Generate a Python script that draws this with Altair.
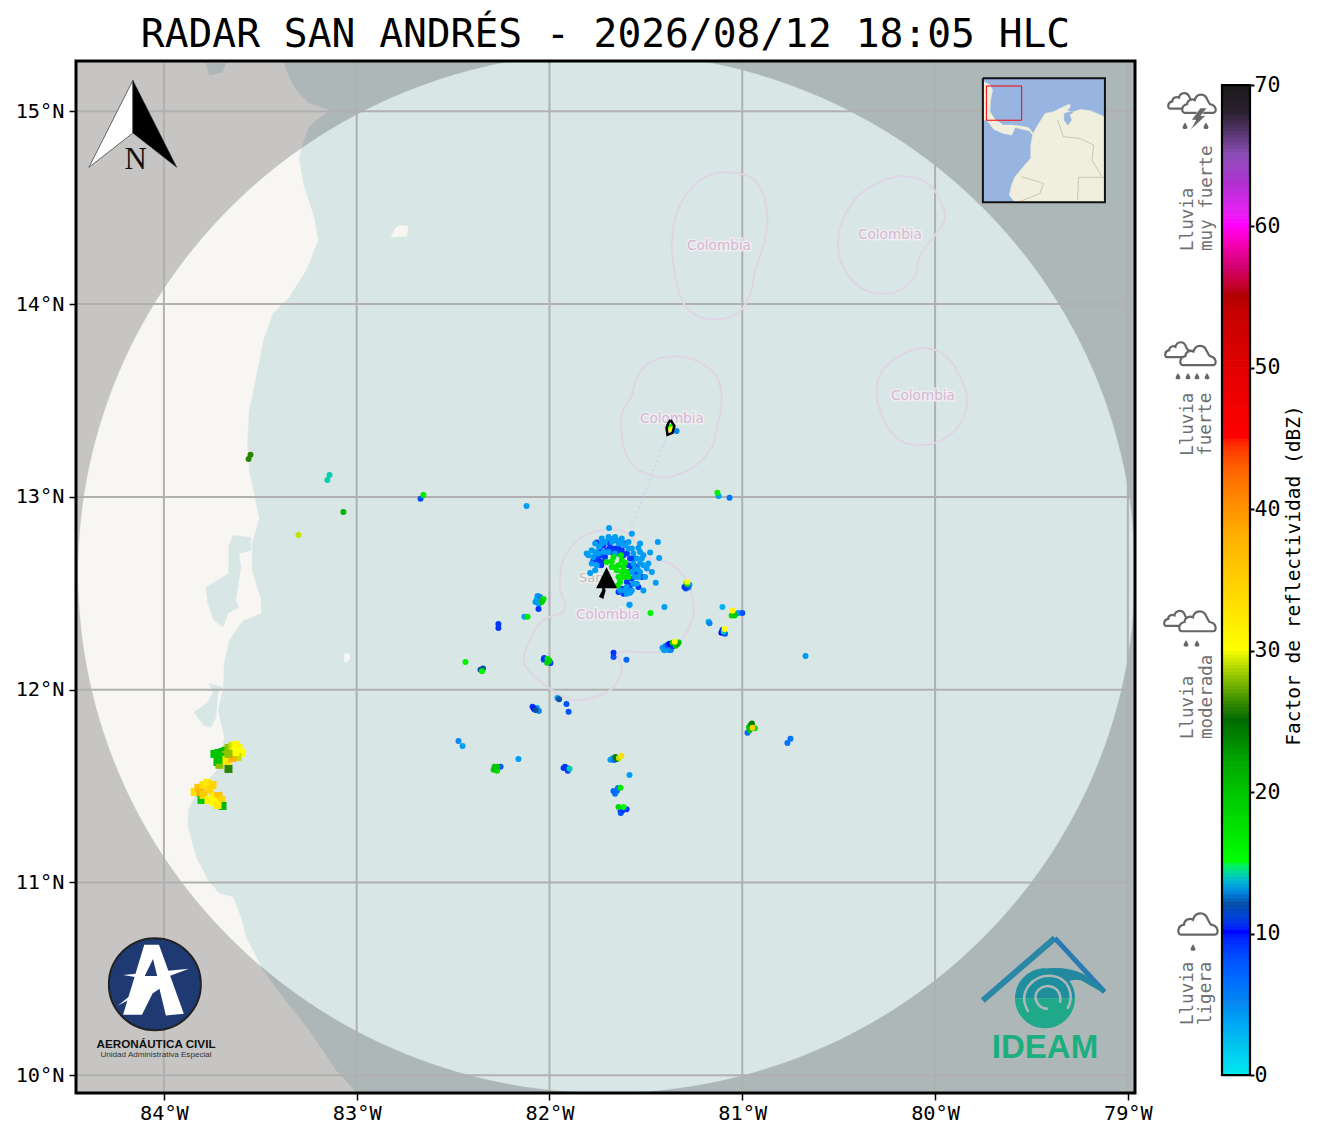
import numpy as np
import pandas as pd
import altair as alt

MONO = "DejaVu Sans Mono"
TITLE = "RADAR SAN ANDRÉS - 2026/08/12 18:05 HLC"
X_DOM = [-84.456, -78.963]
Y_DOM = [9.908, 15.261]
PW, PH = 1059, 1032
LON_TICKS = [-84, -83, -82, -81, -80, -79]
LAT_TICKS = [10, 11, 12, 13, 14, 15]

SEA_OUT, LAND_OUT, SEA_IN, LAND_IN = "#adb7b7", "#c6c5c3", "#d9e6e6", "#f7f6f2"
GRID = "#b0b0b0"
LILAC = "#ded6e4"

# colour scale of the reflectivity
DBZ_STOPS = [0, 2, 5, 10, 12, 15, 20, 22, 25, 26, 30, 33, 38, 42, 45, 50, 54, 55, 57, 60, 63, 65, 68, 70]
DBZ_COLS = ["#00e6f0", "#00c4ee", "#0a86f0", "#0000ff", "#0a50a8", "#00ff00", "#00c400", "#00a800", "#006c00",
            "#2a8400", "#ffff00", "#ffe000", "#ffb000", "#ff7000", "#ff0000", "#e00000", "#c40000", "#b00000",
            "#d00070", "#ff00ff", "#b030d0", "#8a4cb4", "#2a2030", "#1a1a1a"]
CS = alt.Scale(domain=DBZ_STOPS, range=DBZ_COLS, clamp=True)

# coast
LAND_LON = [-83.383, -83.352, -83.315, -83.248, -83.144, -83.212, -83.253, -83.279, -83.300, -83.279, -83.222, -83.201,
            -83.263, -83.352, -83.435, -83.486, -83.523, -83.559, -83.569, -83.559, -83.523, -83.507, -83.544, -83.544,
            -83.497, -83.497, -83.590, -83.663, -83.689, -83.694, -83.720, -83.689, -83.715, -83.834, -83.876, -83.876,
            -83.834, -83.772, -83.715, -83.642, -83.601, -83.575, -83.486, -83.383, -83.248, -83.108, -82.994, -84.47, -84.47]
LAND_LAT = [15.265, 15.176, 15.109, 15.041, 15.005, 14.953, 14.912, 14.834, 14.761, 14.627, 14.450, 14.331,
            14.175, 14.035, 13.952, 13.812, 13.620, 13.449, 13.278, 13.138, 12.967, 12.889, 12.759, 12.619,
            12.464, 12.396, 12.360, 12.256, 12.137, 12.012, 11.893, 11.753, 11.597, 11.462, 11.374, 11.286,
            11.131, 11.011, 10.944, 10.923, 10.819, 10.716, 10.544, 10.404, 10.233, 10.026, 9.9, 9.9, 15.27]
LAG1_LON = [-83.642, -83.549, -83.549, -83.611, -83.601, -83.627, -83.611, -83.668, -83.694, -83.741, -83.772, -83.782, -83.663, -83.663]
LAG1_LAT = [12.801, 12.790, 12.723, 12.707, 12.635, 12.464, 12.427, 12.396, 12.324, 12.360, 12.448, 12.531, 12.604, 12.749]
LAG2_LON = [-83.767, -83.694, -83.720, -83.730, -83.756, -83.793, -83.844, -83.772, -83.746]
LAG2_LAT = [12.033, 12.012, 11.981, 11.857, 11.805, 11.815, 11.883, 11.934, 11.986]
LAKE_LON = [-83.782, -83.678, -83.699, -83.767]
LAKE_LAT = [15.249, 15.249, 15.202, 15.187]
ISLE1_LON = [-82.823, -82.797, -82.776, -82.734, -82.740]
ISLE1_LAT = [14.346, 14.393, 14.409, 14.404, 14.352]
ISLE2_LON = [-83.066, -83.061, -83.035, -83.035, -83.05]
ISLE2_LAT = [12.142, 12.189, 12.184, 12.163, 12.142]

# maritime outlines
OUT1_LON = [-81.090, -80.934, -80.872, -80.883, -80.934, -80.960, -81.038, -81.194, -81.298, -81.349, -81.365, -81.323, -81.220]
OUT1_LAT = [14.684, 14.642, 14.486, 14.331, 14.175, 14.046, 13.942, 13.926, 13.994, 14.149, 14.331, 14.512, 14.642]
OUT2_LON = [-80.182, -80.027, -79.949, -80.001, -80.079, -80.105, -80.208, -80.364, -80.468, -80.504, -80.468, -80.364]
OUT2_LAT = [14.663, 14.616, 14.461, 14.357, 14.253, 14.149, 14.061, 14.072, 14.175, 14.305, 14.461, 14.590]
OUT3_LON = [-80.079, -79.949, -79.861, -79.835, -79.897, -80.027, -80.182, -80.276, -80.302, -80.234]
OUT3_LAT = [13.771, 13.734, 13.605, 13.475, 13.345, 13.273, 13.293, 13.423, 13.579, 13.698]
OUT4_LON = [-81.349, -81.220, -81.132, -81.106, -81.132, -81.158, -81.256, -81.391, -81.515, -81.593, -81.624, -81.624, -81.573, -81.547, -81.479]
OUT4_LAT = [13.729, 13.698, 13.620, 13.501, 13.361, 13.257, 13.153, 13.102, 13.127, 13.200, 13.309, 13.434, 13.527, 13.620, 13.698]
OUT5_LON = [-81.920, -81.946, -81.930, -81.842, -81.723, -81.593, -81.495, -81.375, -81.282, -81.251, -81.282, -81.339, -81.443,
            -81.635, -81.624, -81.687, -81.842, -81.962, -82.127, -82.102, -82.034]
OUT5_LAT = [12.412, 12.531, 12.671, 12.785, 12.827, 12.811, 12.687, 12.655, 12.552, 12.412, 12.308, 12.241, 12.194,
            12.194, 12.100, 11.997, 11.945, 11.981, 12.126, 12.256, 12.360]
LABEL_LON = [-81.121, -80.234, -80.063, -81.365, -81.697]
LABEL_LAT = [14.300, 14.357, 13.522, 13.402, 12.386]

# radar echoes around the site: weak, then moderate, then strongest
CORE_LON = [-81.691, -81.573, -81.438, -81.729, -81.530, -81.807, -81.431, -81.478, -81.469, -81.449, -81.539, -81.542,
            -81.789, -81.585, -81.513, -81.504, -81.582, -81.608,
            -81.763, -81.743, -81.694, -81.660, -81.625, -81.590, -81.573, -81.712, -81.677, -81.642, -81.608, -81.530,
            -81.521, -81.513, -81.495, -81.547, -81.565, -81.772, -81.781, -81.755, -81.746, -81.720, -81.556, -81.547,
            -81.573, -81.599, -81.530, -81.634, -81.763, -81.781,
            -81.729, -81.651, -81.590, -81.565, -81.530, -81.556, -81.798, -81.763, -81.694, -81.660, -81.573, -81.565,
            -81.599, -81.539, -81.487, -81.625, -81.686, -81.513,
            -81.755, -81.720, -81.686, -81.660, -81.625, -81.599, -81.582, -81.608, -81.668, -81.712, -81.746, -81.772,
            -81.732, -81.565, -81.590, -81.547, -81.521, -81.573, -81.625, -81.642, -81.590, -81.582, -81.539, -81.616,
            -81.729, -81.642,
            -81.703, -81.677, -81.616, -81.565, -81.737, -81.755, -81.729, -81.573, -81.556, -81.599, -81.590, -81.642, -81.694,
            -81.703, -81.677, -81.668, -81.625, -81.642, -81.616, -81.651, -81.625, -81.599, -81.642, -81.616, -81.634,
            -81.660, -81.608, -81.629, -81.677, -81.590, -81.646]
CORE_LAT = [12.839, 12.809, 12.766, 12.784, 12.758, 12.706, 12.683, 12.711, 12.611, 12.555, 12.735, 12.624,
            12.605, 12.441, 12.515, 12.585, 12.503, 12.515,
            12.758, 12.740, 12.792, 12.792, 12.784, 12.766, 12.732, 12.766, 12.766, 12.758, 12.749, 12.714,
            12.680, 12.645, 12.628, 12.680, 12.654, 12.688, 12.654, 12.645, 12.706, 12.714, 12.585, 12.550,
            12.515, 12.533, 12.611, 12.515, 12.714, 12.723,
            12.758, 12.775, 12.732, 12.706, 12.654, 12.628, 12.697, 12.619, 12.714, 12.706, 12.611, 12.550,
            12.498, 12.585, 12.654, 12.758, 12.784, 12.697,
            12.763, 12.749, 12.740, 12.732, 12.723, 12.706, 12.680, 12.758, 12.775, 12.688, 12.671, 12.671,
            12.645, 12.619, 12.645, 12.636, 12.585, 12.576, 12.524, 12.507, 12.611, 12.541, 12.533, 12.498,
            12.697, 12.706,
            12.723, 12.714, 12.697, 12.680, 12.723, 12.688, 12.662, 12.636, 12.602, 12.559, 12.515, 12.732, 12.766,
            12.662, 12.666, 12.688, 12.671, 12.645, 12.636, 12.619, 12.611, 12.611, 12.585, 12.585, 12.559,
            12.636, 12.659, 12.697, 12.636, 12.585, 12.541]
CORE_DBZ = [4] * 66 + [9] * 39 + [17] * 18

# scattered echoes
ECHO_LON = [-83.551, -83.561, -83.141, -83.152, -83.069, -83.302, -82.669, -82.654, -82.119,
            -81.372, -81.341, -81.368, -81.129, -81.123, -81.066,
            -81.300, -81.289, -81.274, -81.289, -81.285,
            -82.062, -82.073, -82.047, -82.031, -82.041, -82.057, -82.130, -82.114, -82.265, -82.265,
            -81.103, -81.046, -81.050, -81.0, -81.020, -81.175, -81.170, -81.103, -81.097, -81.090, -81.092,
            -81.414, -81.388, -81.385, -81.370, -81.360, -81.345, -81.362, -81.336, -81.350,
            -81.668, -81.668, -81.601, -82.028, -82.010, -81.995, -82.00, -82.436, -82.358, -82.350,
            -81.959, -81.950, -81.912, -81.901, -82.088, -82.073, -82.055, -80.672,
            -80.973, -80.957, -80.935, -80.962, -80.947, -80.750, -80.766, -82.472, -82.451,
            -82.285, -82.272, -82.254, -82.161, -81.927, -81.910, -81.896,
            -81.684, -81.665, -81.658, -81.640, -81.627, -81.585,
            -81.668, -81.650, -81.632, -81.632, -81.642, -81.616, -81.620, -81.404, -81.476, -81.585,
            -81.293, -81.280, -81.285, -82.066, -82.050, -82.037, -82.055,
            -81.400, -81.375, -81.378, -81.330, -81.405,
            -81.920, -81.905, -80.950, -80.965, -82.012, -82.03, -81.672, -81.650,
            -81.66, -81.645, -81.63, -81.60, -82.29, -82.27, -81.108, -81.055, -81.04, -82.345, -82.08, -82.065]
ECHO_LAT = [13.218, 13.197, 13.114, 13.088, 12.922, 12.803, 12.990, 13.010, 12.953,
            13.363, 13.342, 13.35, 13.021, 13.005, 12.995,
            12.533, 12.538, 12.544, 12.554, 12.559,
            12.486, 12.455, 12.466, 12.471, 12.455, 12.419, 12.378, 12.378, 12.341, 12.320,
            12.429, 12.398, 12.41, 12.398, 12.398, 12.352, 12.345, 12.310, 12.300, 12.29, 12.315,
            12.217, 12.232, 12.206, 12.206, 12.225, 12.228, 12.243, 12.237, 12.248,
            12.191, 12.170, 12.155, 12.165, 12.160, 12.139, 12.15, 12.144, 12.103, 12.095,
            11.957, 11.950, 11.926, 11.885, 11.911, 11.895, 11.890, 12.175,
            11.776, 11.817, 11.80, 11.79, 11.802, 11.745, 11.724, 11.734, 11.708,
            11.600, 11.580, 11.600, 11.641, 11.594, 11.594, 11.590,
            11.636, 11.635, 11.651, 11.646, 11.657, 11.558,
            11.475, 11.475, 11.491, 11.371, 11.392, 11.392, 11.375, 12.429, 12.398, 12.440,
            12.525, 12.530, 12.548, 12.470, 12.482, 12.460, 12.445,
            12.225, 12.215, 12.238, 12.245, 12.205,
            11.600, 11.580, 11.825, 11.805, 12.14, 12.155, 11.645, 11.64,
            11.46, 11.49, 11.36, 11.38, 11.585, 11.60, 12.295, 12.385, 12.385, 12.11, 11.90, 11.905]
ECHO_DBZ = [26, 26, 14, 14, 21, 29, 8, 17, 4,
            16, 5, 30, 16, 4, 6,
            9, 9, 4, 18, 30,
            4, 4, 3, 17, 19, 9, 4, 17, 9, 9,
            3, 20, 31, 8, 4, 3, 5, 9, 14, 8, 30,
            4, 8, 4, 5, 9, 20, 19, 22, 30,
            9, 8, 7, 9, 17, 9, 19, 16, 12, 16,
            4, 12, 8, 8, 9, 12, 5, 4,
            7, 22, 18, 20, 35, 6, 6, 5, 4,
            20, 18, 8, 4, 9, 8, 14,
            4, 7, 24, 29, 33, 4,
            7, 6, 17, 8, 18, 15, 9, 4, 16, 4,
            8, 6, 16, 3, 5, 18, 4,
            5, 4, 10, 19, 4,
            9, 9, 24, 20, 19, 8, 4, 24,
            6, 6, 8, 9, 19, 20, 10, 18, 19, 12, 10, 4]

# strong echoes on the coast
COAST_LON = [-83.738, -83.717, -83.696, -83.681, -83.665, -83.644, -83.629, -83.613, -83.598, -83.618, -83.655, -83.681,
             -83.707, -83.722, -83.712, -83.665, -83.670, -83.644, -83.696, -83.629, -83.717, -83.665,
             -83.841, -83.821, -83.795, -83.774, -83.810, -83.764, -83.743, -83.717, -83.743, -83.701, -83.805, -83.696,
             -83.795, -83.769, -83.722, -83.748]
COAST_LAT = [11.667, 11.672, 11.677, 11.683, 11.698, 11.708, 11.714, 11.698, 11.672, 11.651, 11.662, 11.662,
             11.651, 11.625, 11.610, 11.589, 11.631, 11.646, 11.636, 11.677, 11.636, 11.667,
             11.470, 11.491, 11.506, 11.517, 11.465, 11.480, 11.444, 11.449, 11.418, 11.428, 11.428, 11.397,
             11.454, 11.428, 11.402, 11.506]
COAST_DBZ = [20, 20, 21, 21, 28, 29, 31, 31, 30, 29, 29, 28,
             20, 21, 28, 26, 33, 38, 32, 30, 20, 28,
             33, 36, 33, 32, 38, 34, 32, 36, 30, 34, 20, 21,
             35, 31, 32, 34]

# storm track
TRACK_LON = [-81.383, -81.580]
TRACK_LAT = [13.337, 12.830]
LOOP_LON = [-81.372, -81.352, -81.362, -81.388, -81.393, -81.383, -81.372]
LOOP_LAT = [13.399, 13.368, 13.332, 13.322, 13.358, 13.384, 13.399]
TAIL_LON = [-81.716, -81.722, -81.735, -81.725, -81.714]
TAIL_LAT = [12.54, 12.51, 12.485, 12.48, 12.52]

# inset geography
INS_LON = [-84.84, -83.9, -83.49, -83.8, -83.9, -83.12, -81.82, -80.52, -79.22, -77.92, -77.13, -76.61, -75.31, -74.01,
           -72.45, -71.51, -71.4, -72.19, -71.93, -71.4, -70.88, -69.84, -68.28, -66.04, -66.04, -80, -80.88, -80.52,
           -80, -78.7, -77.55, -77.55, -77.24, -77.76, -78.7, -80, -80.52, -81.82, -83.28, -84.43, -85, -85]
INS_LAT = [15.93, 15.41, 14.63, 13.06, 11.24, 10.04, 9.16, 9.16, 9.0, 8.79, 7.85, 8.9, 10.98, 11.24,
           12.02, 12.44, 11.92, 11.24, 11.5, 11.24, 11.24, 11.6, 11.4, 10.46, -2.9, -2.9, -1.78, -0.22,
           1.08, 2.65, 3.95, 6.03, 7.59, 8.27, 8.48, 8.79, 7.59, 7.85, 8.48, 9.94, 9.94, 15.93]
INS_LK_LON = [-71.4, -72.29, -72.34, -71.77, -71.2, -71.51, -70.88]
INS_LK_LAT = [11.24, 10.98, 9.94, 9.16, 9.94, 10.72, 11.24]
BORDERS = [([-73.38, -72.45, -69.84, -67.76, -68.02, -66.46], [9.94, 7.33, 7.07, 6.03, 3.69, 1.08]),
           ([-66.04, -70.1, -70.26], [0.98, 0.98, -2.56]),
           ([-78.96, -75.57, -76.1, -79.5], [1.08, 0.04, -1.52, -2.9])]

AXX = alt.Axis(values=LON_TICKS, labelExpr="abs(datum.value)+'°W'", grid=False, domain=False, tickSize=7, tickWidth=1.5,
               tickColor="black", labelFont=MONO, labelFontSize=20.3, labelColor="black", title=None, labelPadding=3,
               labelFlush=False, labelOverlap=False)
AXY = alt.Axis(values=LAT_TICKS, labelExpr="datum.value+'°N'", grid=False, domain=False, tickSize=7, tickWidth=1.5,
               tickColor="black", labelFont=MONO, labelFontSize=20.3, labelColor="black", title=None, labelPadding=5,
               labelFlush=False, labelOverlap=False, minExtent=68, maxExtent=68)
X = alt.X("x:Q", scale=alt.Scale(domain=X_DOM, nice=False, zero=False), axis=AXX)
Y = alt.Y("y:Q", scale=alt.Scale(domain=Y_DOM, nice=False, zero=False), axis=AXY)


def frame(lons, lats):
    return pd.DataFrame({"x": lons, "y": lats, "i": range(len(lons))})


def poly(lons, lats, fill=None, stroke=None, width=1.0, xe=X, ye=Y, **kw):
    opts = dict(clip=True, **kw)
    if fill is not None:
        opts["fill"] = fill
        opts["stroke"] = stroke or fill
        opts["strokeWidth"] = width if stroke else 0.5
    else:
        opts["stroke"] = stroke
        opts["strokeWidth"] = width
    return alt.Chart(frame(lons, lats)).mark_line(**opts).encode(x=xe, y=ye, order="i:Q")


def glyph(x, y, path, size, fill=None, stroke=None, width=1.0, xe=X, ye=Y):
    opts = dict(shape=path, size=size, opacity=1)
    if fill is not None:
        opts.update(filled=True, fill=fill)
    else:
        opts.update(filled=False)
    if stroke is not None:
        opts.update(stroke=stroke, strokeWidth=width)
    else:
        opts.update(strokeWidth=0)
    return alt.Chart(frame([x], [y])).mark_point(**opts).encode(x=xe, y=ye)


def label(x, y, text, xe=X, ye=Y, **kw):
    return alt.Chart(frame([x], [y]).assign(t=[text])).mark_text(**kw).encode(x=xe, y=ye, text="t:N")


def clip_convex(poly_pts, clip_pts):
    out = list(poly_pts)
    for a, b in zip(clip_pts, clip_pts[1:] + clip_pts[:1]):
        inp, out = out, []
        if not inp:
            break
        def side(p):
            return (b[0] - a[0]) * (p[1] - a[1]) - (b[1] - a[1]) * (p[0] - a[0])
        for p, q in zip(inp, inp[1:] + inp[:1]):
            sp, sq = side(p), side(q)
            if sp >= 0:
                out.append(p)
            if sp * sq < 0:
                t = sp / (sp - sq)
                out.append((p[0] + t * (q[0] - p[0]), p[1] + t * (q[1] - p[1])))
    return out


# radar range
theta = np.linspace(0, 2 * np.pi, 240, endpoint=False)
CIRC_LON = list(-81.704 + 2.739 * np.cos(theta))
CIRC_LAT = list(12.606 + 2.697 * np.sin(theta))
inner = clip_convex(list(zip(LAND_LON, LAND_LAT)), list(zip(CIRC_LON, CIRC_LAT)))

layers = []
base_df = frame(X_DOM + X_DOM[::-1], [Y_DOM[0]] * 2 + [Y_DOM[1]] * 2)
layers.append(alt.Chart(base_df).mark_line(fill=SEA_OUT, stroke=SEA_OUT, clip=True).encode(x=X, y=Y, order="i:Q"))
layers.append(poly(LAND_LON, LAND_LAT, fill=LAND_OUT))
layers.append(poly(LAKE_LON, LAKE_LAT, fill=SEA_OUT))
layers.append(poly(CIRC_LON, CIRC_LAT, fill=SEA_IN))
layers.append(poly([p[0] for p in inner], [p[1] for p in inner], fill=LAND_IN))
layers.append(poly(LAG1_LON, LAG1_LAT, fill=SEA_IN))
layers.append(poly(LAG2_LON, LAG2_LAT, fill=SEA_IN))
layers.append(poly(ISLE1_LON, ISLE1_LAT, fill=LAND_IN))
layers.append(poly(ISLE2_LON, ISLE2_LAT, fill=LAND_IN))

# grid
layers.append(alt.Chart(pd.DataFrame({"x": LON_TICKS})).mark_rule(color=GRID, strokeWidth=2).encode(x=X))
layers.append(alt.Chart(pd.DataFrame({"y": LAT_TICKS})).mark_rule(color=GRID, strokeWidth=2).encode(y=Y))

# maritime outlines
for lo, la in [(OUT1_LON, OUT1_LAT), (OUT2_LON, OUT2_LAT), (OUT3_LON, OUT3_LAT), (OUT4_LON, OUT4_LAT), (OUT5_LON, OUT5_LAT)]:
    layers.append(poly(lo, la, stroke=LILAC, width=2, interpolate="cardinal-closed"))
lab_df = pd.DataFrame({"x": LABEL_LON, "y": LABEL_LAT, "t": ["Colombia"] * 5})
layers.append(alt.Chart(lab_df).mark_text(font="DejaVu Sans", fontSize=13.6, stroke="#f2eef2", strokeWidth=3, opacity=.9).encode(x=X, y=Y, text="t:N"))
layers.append(alt.Chart(lab_df).mark_text(font="DejaVu Sans", fontSize=13.6, color="#d3b8d3").encode(x=X, y=Y, text="t:N"))
layers.append(label(-81.847, 12.578, "San", align="left", font="DejaVu Sans", fontSize=13, stroke="#eeeeee", strokeWidth=3))
layers.append(label(-81.847, 12.578, "San", align="left", font="DejaVu Sans", fontSize=13, color="#bdbdbd"))

# track beneath echoes
layers.append(poly(TRACK_LON, TRACK_LAT, stroke="#c6d6ee", width=1.5, strokeDash=[2, 3]))

# radar echoes
echo_df = pd.DataFrame({"x": ECHO_LON, "y": ECHO_LAT, "d": ECHO_DBZ}).sort_values("d", kind="stable")
layers.append(alt.Chart(echo_df).mark_circle(size=36, opacity=1).encode(
    x=X, y=Y, color=alt.Color("d:Q", scale=CS, legend=None)))
coast_df = pd.DataFrame({"x": COAST_LON, "y": COAST_LAT, "d": COAST_DBZ})
layers.append(alt.Chart(coast_df).mark_square(size=64, opacity=1).encode(
    x=X, y=Y, color=alt.Color("d:Q", scale=CS, legend=None)))
core_df = pd.DataFrame({"x": CORE_LON, "y": CORE_LAT, "d": CORE_DBZ})
core_df = pd.concat([core_df[core_df.d == 9], core_df[core_df.d == 4], core_df[core_df.d == 17]])
layers.append(alt.Chart(core_df).mark_circle(size=36, opacity=1).encode(
    x=X, y=Y, color=alt.Color("d:Q", scale=CS, legend=None)))

# storm arrow
layers.append(poly(LOOP_LON, LOOP_LAT, stroke="black", width=2.5))
layers.append(poly(TAIL_LON, TAIL_LAT, stroke="black", width=2.5))
layers.append(glyph(-81.704, 12.580, "M0,-1 L1,1 L-1,1 Z", 441, fill="black"))

# north arrow
layers.append(glyph(-84.161, 14.935, "M0,-.99 L-1,.99 L0,.21 Z", 7744, fill="white", stroke="#666666", width=1))
layers.append(glyph(-84.161, 14.935, "M0,-.99 L1,.99 L0,.21 Z", 7744, fill="black", stroke="#333333", width=.5))
layers.append(label(-84.147, 14.750, "N", font="Liberation Serif", fontSize=31, color="#111111"))


# inset
def ix(v):
    return [-79.752 + (a + 85) / 19 * 0.633 for a in v]


def iy(v):
    return [14.528 + (a + 2.92) / 19.375 * 0.643 for a in v]


IN_X = [-85, -66, -66, -85]
IN_Y = [16.455, 16.455, -2.92, -2.92]
layers.append(poly(ix(IN_X), iy(IN_Y), fill="#98b5e2"))
layers.append(poly(ix(INS_LON), iy(INS_LAT), fill="#f0eedc"))
layers.append(poly(ix(INS_LK_LON), iy(INS_LK_LAT), fill="#98b5e2"))
for lo, la in BORDERS:
    layers.append(poly(ix(lo), iy(la), stroke="#c8c6b4", width=1))
layers.append(poly(ix(IN_X + IN_X[:1]), iy(IN_Y + IN_Y[:1]), stroke="#111111", width=2))
layers.append(poly(ix([X_DOM[0], X_DOM[1], X_DOM[1], X_DOM[0], X_DOM[0]]), iy([Y_DOM[1], Y_DOM[1], Y_DOM[0], Y_DOM[0], Y_DOM[1]]), stroke="#ff0000", width=1))

# Aeronautica logo
DISK = "M-1,0 C-1,-.55 -.55,-1 0,-1 C.55,-1 1,-.55 1,0 C1,.55 .55,1 0,1 C-.55,1 -1,.55 -1,0 Z"
LOGO_A = "M-.23,-.86 L.09,-.86 L.63,.64 L.24,.68 L.10,.10 L-.05,.20 L-.28,.66 L-.69,.66 Z"
LOGO_HOLE = "M-.04,-.55 L.05,-.18 L-.22,-.18 Z"
LOGO_STAR = "M-.69,-.2 L.74,-.34 L.1,-.1 L-.1,.1 L-.8,.46 L-.35,.1 L-.2,-.12 Z"
layers.append(glyph(-84.047, 10.472, DISK, 8464, fill="#1f3a72", stroke="#222222", width=2))
layers.append(glyph(-84.047, 10.472, LOGO_STAR, 8464, fill="white"))
layers.append(glyph(-84.047, 10.472, LOGO_A, 8464, fill="white"))
layers.append(glyph(-84.047, 10.472, LOGO_HOLE, 8464, fill="#1f3a72"))
layers.append(label(-84.041, 10.161, "AERONÁUTICA CIVIL", font="Liberation Sans", fontWeight="bold", fontSize=11.7, color="#111111"))
layers.append(label(-84.041, 10.103, "Unidad Administrativa Especial", font="Liberation Sans", fontSize=8.1, color="#333333"))

# IDEAM logo
layers.append(glyph(-79.415, 10.399, "M-.93,.03 L.10,-.86", 19600, stroke="#2a88a6", width=6))
layers.append(glyph(-79.415, 10.399, "M.10,-.86 L.81,-.09", 19600, stroke="#2a7ab2", width=5))
layers.append(glyph(-79.43, 10.399, "M-1,0 C-1,-.55 -.55,-1 0,-1 C.55,-1 1,-.55 1,0 Z", 3600, fill="#1f8f9e"))
layers.append(glyph(-79.43, 10.399, "M-1,0 C-1,.55 -.55,1 0,1 C.55,1 1,.55 1,0 Z", 3600, fill="#1fa98a"))
layers.append(glyph(-79.43, 10.399, "M.1,-1 C.6,-1.05 1.0,-.95 1.3,-.8 L1.95,-.3 L1.9,-.2 L1.2,-.6 C1,-.65 .8,-.6 .6,-.5 Z", 3600, fill="#2488a0"))
layers.append(glyph(-79.43, 10.399, "M-.55,.45 C-.95,-.2 -.4,-.8 .2,-.75 C.8,-.7 1.0,-.1 .75,.35", 3600, stroke=SEA_OUT, width=2.5))
layers.append(glyph(-79.43, 10.399, "M.5,.15 C.6,-.35 .1,-.55 -.2,-.3 C-.45,-.05 -.25,.35 .1,.35", 3600, stroke=SEA_OUT, width=2.5))
layers.append(label(-79.430, 10.140, "IDEAM", font="Liberation Sans", fontWeight="bold", fontSize=33, color="#1cae7f"))

# frame
layers.append(alt.Chart(frame([0], [0])).mark_rect(filled=False, stroke="black", strokeWidth=3, clip=False).encode(
    x=alt.value(0), x2=alt.value(PW), y=alt.value(0), y2=alt.value(PH)))

main = alt.layer(*layers).properties(
    width=PW, height=PH,
    title=alt.TitleParams(TITLE, font=MONO, fontSize=39.6, fontWeight="normal", color="black", anchor="middle", offset=4))

# colour bar panel
CB_W = 90
C_TOP, C_BOT = 71.7, -1.27
CB_TICKS = [0, 10, 20, 30, 40, 50, 60, 70]
CAX = alt.Axis(values=CB_TICKS, domain=False, grid=False, tickSize=4, tickWidth=2, tickColor="black", labelFont=MONO,
               labelFontSize=21.6, labelColor="black", labelPadding=0, labelFlush=False, labelOverlap=False,
               title="Factor de reflectividad (dBZ)", titleFont=MONO, titleFontSize=19.5, titleFontWeight="normal",
               titleColor="black", titleAngle=270, titleBaseline="middle", titleAlign="center", titleX=43, titleY=514,
               orient="right")
CX = alt.X("x:Q", scale=alt.Scale(domain=[0, CB_W], nice=False, zero=False), axis=None)
CY = alt.Y("y:Q", scale=alt.Scale(domain=[C_BOT, C_TOP], nice=False, zero=False), axis=CAX)
bar_v = np.arange(0, 70, 0.25)
bar_df = pd.DataFrame({"y": bar_v, "y2": bar_v + 0.3, "x": 62, "x2": 90, "d": bar_v})
bar_df["y2"] = bar_df["y2"].clip(upper=70)
clayers = [alt.Chart(bar_df).mark_rect().encode(
    x=CX, x2="x2:Q", y=CY, y2="y2:Q", color=alt.Color("d:Q", scale=CS, legend=None))]
clayers.append(alt.Chart(pd.DataFrame({"x": [62], "x2": [90], "y": [0], "y2": [70]})).mark_rect(filled=False, stroke="black", strokeWidth=2.2).encode(
    x=CX, x2="x2:Q", y=CY, y2="y2:Q"))

CLOUD = "M-.85,.55 C-1.05,.55 -1.05,.1 -.7,.05 C-.7,-.2 -.4,-.3 -.25,-.2 C-.15,-.6 .35,-.65 .5,-.2 C.55,-.1 .6,0 .65,.05 C1.05,.1 1.05,.55 .85,.55 Z"
DROP = "M0,-1 C.5,-.2 .7,.2 .7,.4 C.7,1 -.7,1 -.7,.4 C-.7,.2 -.5,-.2 0,-1 Z"
BOLT = "M.3,-1 L.9,-1 L.35,-.3 L.8,-.3 L-.6,1 L-.1,.1 L-.5,.1 Z"
ICON = "#666666"
CLOUD_X = [22.5, 39, 19, 38, 18, 37.5, 38]
CLOUD_Y = [68.9, 68.7, 51.3, 50.9, 32.3, 32.1, 10.7]
CLOUD_W = [29, 34, 28, 36, 28, 37, 40]
for cx, cy, cw in zip(CLOUD_X, CLOUD_Y, CLOUD_W):
    clayers.append(glyph(cx, cy, CLOUD, cw ** 2, fill="white", stroke=ICON, width=2.2, xe=CX, ye=CY))
DROP_X = [25, 46, 18, 28, 37, 47, 26, 37, 33]
DROP_Y = [67.1, 67.1, 49.4, 49.4, 49.4, 49.4, 30.5, 30.5, 9.0]
for dx, dy in zip(DROP_X, DROP_Y):
    clayers.append(glyph(dx, dy, DROP, 49, fill=ICON, xe=CX, ye=CY))
clayers.append(glyph(37, 67.6, BOLT, 484, fill=ICON, stroke="white", width=.5, xe=CX, ye=CY))

RAIN_T = ["Lluvia", "muy fuerte", "Lluvia", "fuerte", "Lluvia", "moderada", "Lluvia", "ligera"]
RAIN_X = [28, 47, 28, 46, 28, 47, 28, 46]
RAIN_Y = [58.27, 58.27, 43.78, 43.78, 23.76, 23.76, 3.54, 3.54]
clayers.append(alt.Chart(pd.DataFrame({"x": RAIN_X, "y": RAIN_Y, "t": RAIN_T})).mark_text(
    font=MONO, fontSize=17.5, color="#707070", angle=270, align="left", baseline="middle").encode(x=CX, y=CY, text="t:N"))

bar = alt.layer(*clayers).properties(width=CB_W, height=PH)

chart = alt.hconcat(main, bar, spacing=25, bounds="flush").properties(
    padding={"left": 0, "top": 6, "right": 0, "bottom": 0}
).configure_view(stroke=None)

chart.save("out.html", embed_options={"renderer": "svg", "actions": False})
